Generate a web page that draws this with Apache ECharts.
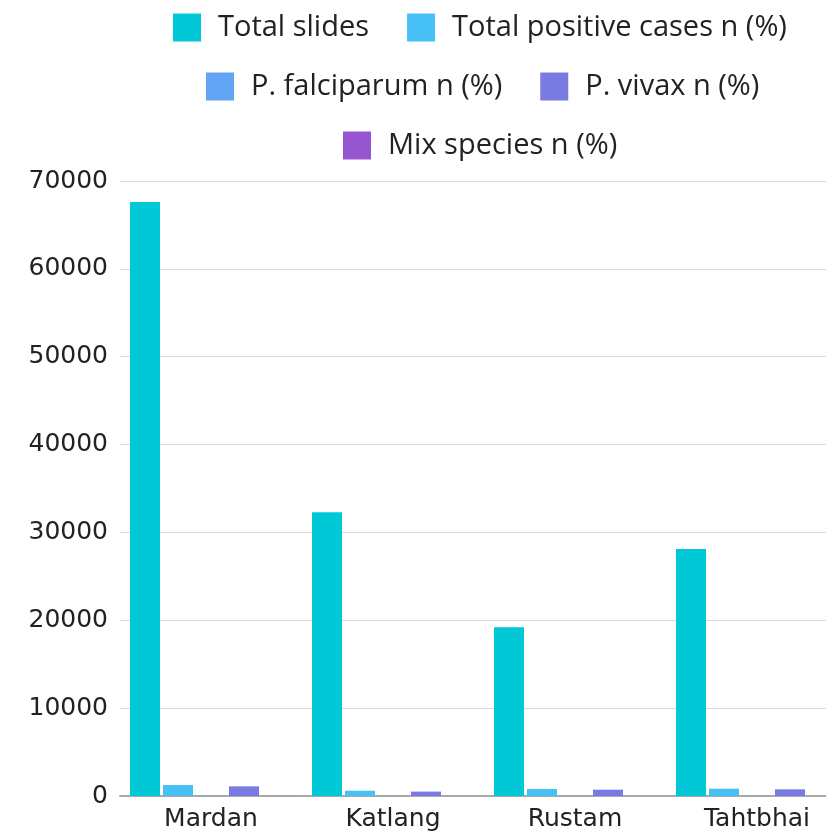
<!DOCTYPE html>
<html>
<head>
<meta charset="utf-8">
<title>Malaria slides by area</title>
<script src="https://cdn.jsdelivr.net/npm/echarts@6/dist/echarts.min.js"></script>
<style>
  html, body { margin: 0; padding: 0; background: #ffffff; overflow: hidden; }
  /* drawing surface is wider than the window; the right end of the plot is cut off */
  #chart { width: 848px; height: 832px; }
</style>
</head>
<body>
<div id="chart"></div>
<script>
// Areas and counts
const areas = ['Mardan', 'Katlang', 'Rustam', 'Tahtbhai'];
const totalSlides = [67600, 32300, 19200, 28100];
const totalPositive = [1250, 600, 800, 830];
const pFalciparum = [20, 10, 10, 10];
const pVivax = [1100, 500, 720, 760];
const mixSpecies = [5, 2, 2, 2];
const yTicks = [0, 10000, 20000, 30000, 40000, 50000, 60000, 70000];

const seriesNames = [
  'Total slides',
  'Total positive cases n (%)',
  'P. falciparum n (%)',
  'P. vivax n (%)',
  'Mix species n (%)'
];
const seriesData = [totalSlides, totalPositive, pFalciparum, pVivax, mixSpecies];
const colors = ['#00C8D7', '#47C1F5', '#62A5F4', '#7A7BE2', '#9656D0'];

const legendText = {
  fontFamily: '"Open Sans", "Noto Sans", sans-serif',
  fontSize: 29,
  color: '#222222',
  padding: [0, 0, 0, 12]
};
function legendRow(names, left, top) {
  return {
    data: names,
    left: left,
    top: top,
    padding: 0,
    orient: 'horizontal',
    icon: 'rect',
    itemWidth: 28,
    itemHeight: 28,
    itemGap: 38,
    textStyle: legendText,
    selectedMode: false
  };
}

const chart = echarts.init(document.getElementById('chart'), null, { renderer: 'canvas' });
chart.setOption({
  animation: false,
  backgroundColor: '#ffffff',
  color: colors,
  legend: [
    legendRow(seriesNames.slice(0, 2), 173, 13),
    legendRow(seriesNames.slice(2, 4), 206, 72),
    legendRow(seriesNames.slice(4), 343, 131)
  ],
  grid: { left: 120, right: 0, top: 181, bottom: 36, containLabel: false },
  xAxis: {
    type: 'category',
    data: areas,
    axisLine: { lineStyle: { color: '#a8a8a8', width: 2 } },
    axisTick: { show: false },
    axisLabel: {
      fontFamily: '"DejaVu Sans", sans-serif',
      fontSize: 25,
      color: '#222222',
      margin: 11
    }
  },
  yAxis: {
    type: 'value',
    min: yTicks[0],
    max: yTicks[yTicks.length - 1],
    interval: yTicks[1] - yTicks[0],
    axisLine: { show: false },
    axisTick: { show: false },
    splitLine: { lineStyle: { color: '#dcdcdc', width: 1 } },
    axisLabel: {
      fontFamily: '"DejaVu Sans", sans-serif',
      fontSize: 25,
      color: '#222222',
      margin: 12,
      formatter: v => String(v)
    }
  },
  series: seriesNames.map((name, i) => ({
    name: name,
    type: 'bar',
    data: seriesData[i],
    barWidth: 30,
    barGap: '10%',
    itemStyle: { color: colors[i] }
  }))
});
</script>
</body>
</html>
